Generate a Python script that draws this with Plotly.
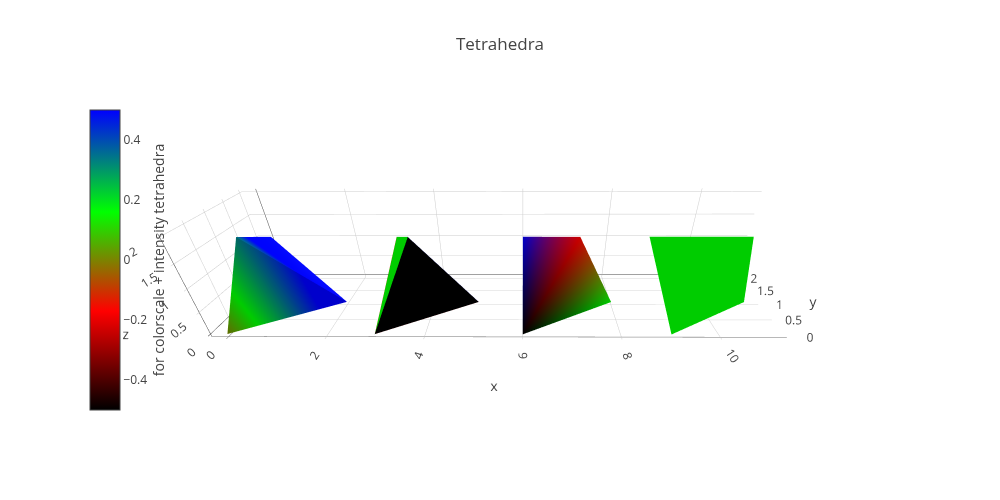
import plotly.graph_objects as go

base_x = [0, 1, 2, 0]
base_y = [0, 0, 1, 2]
base_z = [0, 2, 0, 1]
tri_i = [0, 0, 0, 1]
tri_j = [1, 2, 3, 2]
tri_k = [2, 3, 1, 3]
offsets = [0, 3, 6, 9]
intensity = [0, 0.33, 0.66, 1]
colorscale = [[0, "rgb(0,0,0)"], [0.33, "rgb(255,0,0)"], [0.66, "rgb(0,255,0)"], [1, "rgb(0,0,255)"]]
vertex_colors = ["rgb(0,0,0)", "rgb(255,0,0)", "rgb(0,255,0)", "rgb(0,0,255)"]
face_colors = ["rgb(0,0,0)", "rgb(255,0,0)", "rgb(0,255,0)", "rgb(0,0,255)"]
flat_color = "rgb(0,255,0)"
colorbar_title = "for colorscale + intensity tetrahedra"


def shifted(offset):
    return [v + offset for v in base_x]


fig = go.Figure()
fig.add_trace(go.Mesh3d(
    x=shifted(offsets[0]), y=base_y, z=base_z, i=tri_i, j=tri_j, k=tri_k,
    intensity=intensity, colorscale=colorscale, cmin=-0.5, cmax=0.5,
    colorbar=dict(x=0, xanchor="left", title=dict(text=colorbar_title, side="right")),
))
fig.add_trace(go.Mesh3d(
    x=shifted(offsets[1]), y=base_y, z=base_z, i=tri_i, j=tri_j, k=tri_k,
    facecolor=face_colors, showscale=False,
))
fig.add_trace(go.Mesh3d(
    x=shifted(offsets[2]), y=base_y, z=base_z, i=tri_i, j=tri_j, k=tri_k,
    vertexcolor=vertex_colors, showscale=False,
))
fig.add_trace(go.Mesh3d(
    x=shifted(offsets[3]), y=base_y, z=base_z, i=tri_i, j=tri_j, k=tri_k,
    color=flat_color, showscale=False,
))
fig.update_layout(
    title=dict(text="Tetrahedra", x=0.5, xanchor="center"),
    width=1000, height=500,
    font=dict(family="Open Sans, verdana, arial, sans-serif"),
    margin=dict(l=80, r=80, t=100, b=80),
    template="none",
    scene=dict(
        domain=dict(x=[0.05, 1], y=[0, 1]),
        aspectmode="manual",
        aspectratio=dict(x=2.91, y=0.582, z=0.582),
        dragmode="orbit",
        camera=dict(
            center=dict(x=0.115, y=0, z=0),
            eye=dict(x=0.127, y=-1.77, z=1.024),
            up=dict(x=0, y=0.5008, z=0.8656),
        ),
    ),
)
fig.write_html("out.html", config={"displayModeBar": False},
               post_script="document.body.style.margin='0';")
